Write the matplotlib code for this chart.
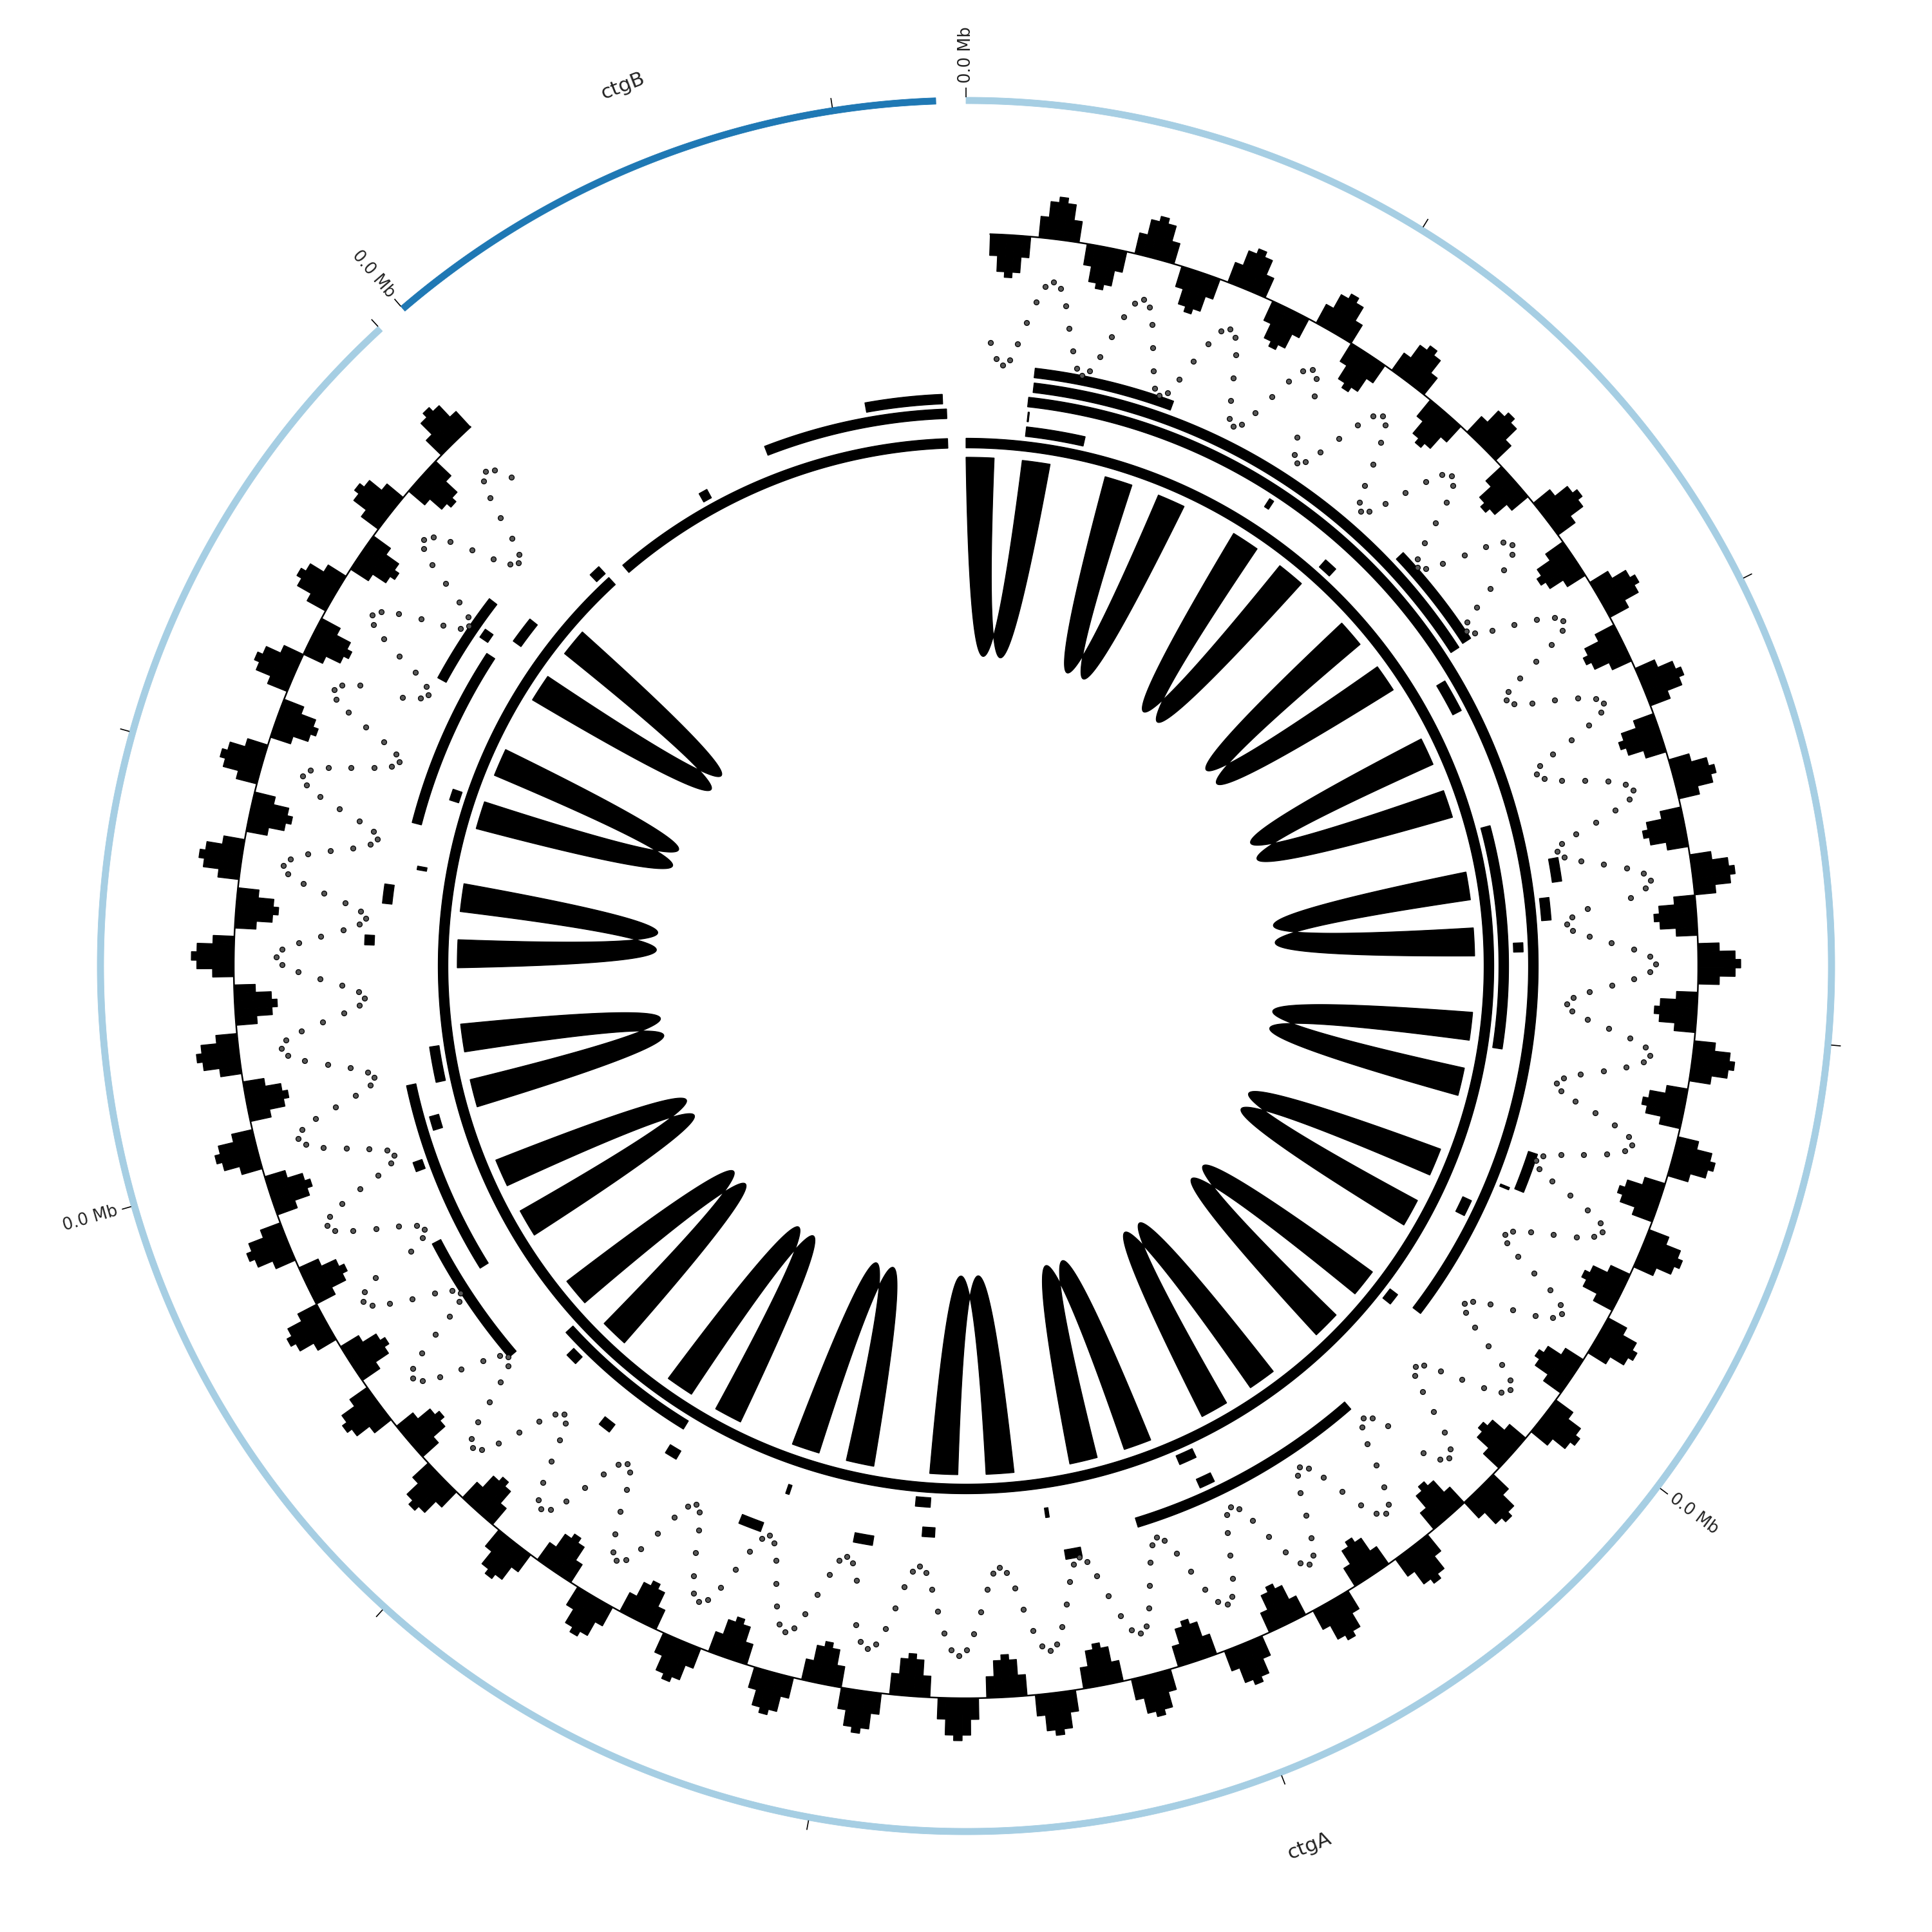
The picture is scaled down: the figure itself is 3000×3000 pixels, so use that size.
import numpy as np
import matplotlib.pyplot as plt
from matplotlib.patches import Polygon

# sectors (bp)
sector_names = ["ctgA", "ctgB"]
sector_sizes = [50001, 6079]
sector_colors = ["#a6cee3", "#1f78b4"]

ctgA_ticks = [0, 5000, 10000, 15000, 20000, 25000, 30000, 35000, 40000, 45000, 50000]
ctgB_ticks = [0, 5000]
ctgA_tick_labels = [0, 20000, 40000]
ctgB_tick_labels = [0]

# feature rows (start, end) in bp
ctgA_ring = [(0, 50001)]
ctgB_ring = [(0, 6079)]
ctgA_row1 = [(1008, 2000), (6540, 6770), (11815, 15565), (20050, 20250), (24400, 24700),
             (28950, 29200), (33300, 35840), (40580, 41180), (45340, 45530), (49800, 50001)]
ctgA_row2 = [(1008, 1030), (5200, 5280), (9330, 9880), (13800, 13950), (18100, 18370),
             (27000, 27060), (31270, 31330), (35360, 35560), (39830, 40060), (44100, 44160),
             (48150, 48600)]
ctgA_row3 = [(990, 20070), (24300, 24550), (28850, 29050), (33150, 33350), (37510, 40630),
             (44820, 47750)]
ctgA_row4 = [(1050, 9000), (13120, 13470), (17670, 17710), (21900, 25670), (29800, 30100),
             (34250, 34450), (39300, 39450), (43500, 43800), (47900, 48050)]
ctgA_row5 = [(1040, 3180), (7340, 8980), (12540, 12900), (17050, 17660), (26600, 26850),
             (31500, 31850), (36140, 38200), (42850, 43000), (47040, 48460)]
ctgB_row1 = [(1750, 1900)]
ctgB_row2 = [(3055, 6079)]
ctgB_row3 = [(4790, 6020)]

# signal on ctgA, one value per 100 bp bin, first bin at 300 bp
signal_values = [
    -.5, -.87, -1, -.87, -.5, 0, .5, .87, 1, .87, .5,
    0, -.5, -.87, -1, -.87, -.5, 0, .5, .87, 1, .87, .5,
    0, -.5, -.87, -1, -.87, -.5, 0, .5, .87, 1, .87, .5,
    0, -.5, -.87, -1, -.87, -.5, 0, .5, .87, 1, .87, .5,
    -.5, -.87, -1, -.87, -.5, 0, .5, .87, 1, .87, .5,
    0, -.5, -.87, -1, -.87, -.5, 0, .5, .87, 1, .87, .5,
    0, -.5, -.87, -1, -.87, -.5, 0, .5, .87, 1, .87, .5,
    0, -.5, -.87, -1, -.87, -.5, 0, .5, .87, 1, .87, .5,
    0, -.5, -.87, -1, -.87, -.5, 0, .5, .87, 1, .87, .5,
    0, -.5, -.87, -1, -.87, -.5, 0, .5, .87, 1, .87, .5,
    0, -.5, -.87, -1, -.87, -.5, 0, .5, .87, 1, .87, .5,
    -.5, -.87, -1, -.87, -.5, 0, .5, .87, 1, .87, .5,
    0, -.5, -.87, -1, -.87, -.5, 0, .5, .87, 1, .87, .5,
    0, -.5, -.87, -1, -.87, -.5, 0, .5, .87, 1, .87, .5,
    0, -.5, -.87, -1, -.87, -.5, 0, .5, .87, 1, .87, .5,
    0, -.5, -.87, -1, -.87, -.5, 0, .5, .87, 1, .87, .5,
    0, -.5, -.87, -1, -.87, -.5, 0, .5, .87, 1, .87, .5,
    0, -.5, -.87, -1, -.87, -.5, 0, .5, .87, 1, .87, .5,
    -.5, -.87, -1, -.87, -.5, 0, .5, .87, 1, .87, .5,
    0, -.5, -.87, -1, -.87, -.5, 0, .5, .87, 1, .87, .5,
    0, -.5, -.87, -1, -.87, -.5, 0, .5, .87, 1, .87, .5,
    0, -.5, -.87, -1, -.87, -.5, 0, .5, .87, 1, .87, .5,
    0, -.5, -.87, -1, -.87, -.5, 0, .5, .87, 1, .87, .5,
    0, -.5, -.87, -1, -.87, -.5, 0, .5, .87, 1, .87, .5,
    0, -.5, -.87, -1, -.87, -.5, 0, .5, .87, 1, .87, .5,
    -.5, -.87, -1, -.87, -.5, 0, .5, .87, 1, .87, .5,
    0, -.5, -.87, -1, -.87, -.5, 0, .5, .87, 1, .87, .5,
    0, -.5, -.87, -1, -.87, -.5, 0, .5, .87, 1, .87, .5,
    0, -.5, -.87, -1, -.87, -.5, 0, .5, .87, 1, .87, .5,
    0, -.5, -.87, -1, -.87, -.5, 0, .5, .87, 1, .87, .5,
    0, -.5, -.87, -1, -.87, -.5, 0, .5, .87, 1, .87, .5,
    0, -.5, -.87, -1, -.87, -.5, 0, .5, .87, 1, .87, .5,
    -.5, -.87, -1, -.87, -.5, 0, .5, .87, 1, .87, .5,
    0, -.5, -.87, -1, -.87, -.5, 0, .5, .87, 1, .87, .5,
    0, -.5, -.87, -1, -.87, -.5, 0, .5, .87, 1, .87, .5,
    0, -.5, -.87, -1, -.87, -.5, 0, .5, .87, 1, .87, .5,
    0, -.5, -.87, -1, -.87, -.5, 0, .5, .87, 1, .87, .5,
    0, -.5, -.87, -1, -.87, -.5, 0, .5, .87, 1, .87, .5,
    0, -.5, -.87, -1, -.87, -.5, 0, .5, .87, 1, .87, .5,
    -.5, -.87, -1, -.87, -.5, 0, .5, .87, 1, .87, .5,
    0, -.5, -.87, -1, -.87, -.5, 0, .5, .87, 1, .87, .5,
    0, -.5, -.87, -1, -.87, -.5, 0, .5, .87, 1, .87, .5,
]
signal_start = 300
signal_bin = 100

# links on ctgA: region1 <-> region2
link_region1 = [(0, 500), (2500, 3000), (5000, 5500), (7500, 8000), (10000, 10500),
                (12500, 13000), (15000, 15500), (17500, 18000), (20000, 20500), (22500, 23000),
                (25000, 25500), (27500, 28000), (30000, 30500), (32500, 33000), (35000, 35500),
                (37500, 38000), (40000, 40500), (42500, 43000), (45000, 45500), (47500, 48000)]
link_region2 = [(1000, 1500), (3500, 4000), (6000, 6500), (8500, 9000), (11000, 11500),
                (13500, 14000), (16000, 16500), (18500, 19000), (21000, 21500), (23500, 24000),
                (26000, 26500), (28500, 29000), (31000, 31500), (33500, 34000), (36000, 36500),
                (38500, 39000), (41000, 41500), (43500, 44000), (46000, 46500), (48500, 49000)]

# ---- layout (pixels from centre) ----
SPACE = 2.0
DEG = (360 - SPACE * len(sector_sizes)) / sum(sector_sizes)
sec_start = {"ctgA": 0.0, "ctgB": sector_sizes[0] * DEG + SPACE}
sec_size = dict(zip(sector_names, sector_sizes))

R_OUT = (1339, 1349)
R_TICK = (1349, 1364)
R_TICKLABEL = 1371
R_NAME = 1467
R_HIST = 1137
A_HIST = 66
R_DOT = 1003
A_DOT = 68
ROW_R = [812, 835, 858, 881, 904, 927]
ROW_H = 15
R_LINK = 790
R_CTL = 174


def deg(name, bp):
    return sec_start[name] + bp * DEG


def pt(theta, r):
    t = np.radians(theta)
    return np.array([r * np.sin(t), r * np.cos(t)])


def arc(t0, t1, r):
    n = max(2, int(abs(t1 - t0) * 4) + 2)
    t = np.radians(np.linspace(t0, t1, n))
    return np.column_stack([r * np.sin(t), r * np.cos(t)])


def band(ax, t0, t1, r0, r1, color="black", **kw):
    verts = np.vstack([arc(t0, t1, r1), arc(t1, t0, r0)])
    ax.add_patch(Polygon(verts, closed=True, facecolor=color, edgecolor=color, **kw))


def bezier(p0, c, p2, n=100):
    t = np.linspace(0, 1, n)[:, None]
    return (1 - t) ** 2 * p0 + 2 * (1 - t) * t * c + t ** 2 * p2


fig = plt.figure(figsize=(10, 10), dpi=300)
ax = fig.add_axes([0, 0, 1, 1])
ax.set_xlim(-1500, 1500)
ax.set_ylim(-1500, 1500)
ax.set_aspect("equal")
ax.axis("off")

# outer sector ring, ticks and labels
ticks = {"ctgA": ctgA_ticks, "ctgB": ctgB_ticks}
tick_labels = {"ctgA": ctgA_tick_labels, "ctgB": ctgB_tick_labels}
for name, color in zip(sector_names, sector_colors):
    band(ax, deg(name, 0), deg(name, sec_size[name]), R_OUT[0], R_OUT[1], color=color, lw=0.2)
    for bp in ticks[name]:
        th = deg(name, bp)
        p0, p1 = pt(th, R_TICK[0]), pt(th, R_TICK[1])
        ax.plot([p0[0], p1[0]], [p0[1], p1[1]], color="black", lw=0.4, solid_capstyle="butt")
    for bp in tick_labels[name]:
        th = deg(name, bp)
        phi = 90 - th
        if np.cos(np.radians(phi)) >= -1e-9:
            rot, ha = phi, "left"
        else:
            rot, ha = phi + 180, "right"
        x, y = pt(th, R_TICKLABEL)
        ax.text(x, y, f"{bp / 1e6:.1f} Mb", fontsize=6.2, rotation=rot, ha=ha, va="center",
                rotation_mode="anchor", color="#222222")
    mid = deg(name, sec_size[name] / 2)
    rot = 180 - mid if 90 < mid < 270 else -mid
    x, y = pt(mid, R_NAME)
    ax.text(x, y, name, fontsize=7.5, rotation=rot, ha="center", va="center",
            rotation_mode="anchor", color="#222222")

# feature rows
rows = {
    "ctgA": [ctgA_ring, ctgA_row1, ctgA_row2, ctgA_row3, ctgA_row4, ctgA_row5],
    "ctgB": [ctgB_ring, ctgB_row1, ctgB_row2, ctgB_row3],
}
for name, row_list in rows.items():
    for k, feats in enumerate(row_list):
        rc = ROW_R[k]
        for s, e in feats:
            band(ax, deg(name, s), deg(name, e), rc - ROW_H / 2, rc + ROW_H / 2, lw=0.3)

# histogram track + dot track
xs = np.arange(len(signal_values)) * signal_bin + signal_start
t0 = deg("ctgA", xs[0])
t1 = deg("ctgA", xs[-1] + signal_bin)
base = arc(t0, t1, R_HIST)
ax.plot(base[:, 0], base[:, 1], color="black", lw=0.6)
for x, v in zip(xs, signal_values):
    if v == 0:
        continue
    band(ax, deg("ctgA", x), deg("ctgA", x + signal_bin), R_HIST, R_HIST + A_HIST * v, lw=0.3)

dot_xy = np.array([pt(deg("ctgA", x + signal_bin / 2), R_DOT + A_DOT * v)
                   for x, v in zip(xs, signal_values)])
ax.scatter(dot_xy[:, 0], dot_xy[:, 1], s=3.6, facecolor="#555555", edgecolor="black",
           linewidths=0.3, zorder=3)

# links (twisted ribbons)
for (s1, e1), (s2, e2) in zip(link_region1, link_region2):
    a1, a2 = deg("ctgA", s1), deg("ctgA", e1)
    b1, b2 = deg("ctgA", s2), deg("ctgA", e2)
    c1 = bezier(pt(a2, R_LINK), pt((a2 + b2) / 2, R_CTL), pt(b2, R_LINK))
    c2 = bezier(pt(b1, R_LINK), pt((a1 + b1) / 2, R_CTL), pt(a1, R_LINK))
    verts = np.vstack([arc(a1, a2, R_LINK), c1, arc(b2, b1, R_LINK), c2])
    ax.add_patch(Polygon(verts, closed=True, facecolor="black", edgecolor="black", lw=0.3))

fig.savefig("out.png", dpi=300, facecolor="white")
